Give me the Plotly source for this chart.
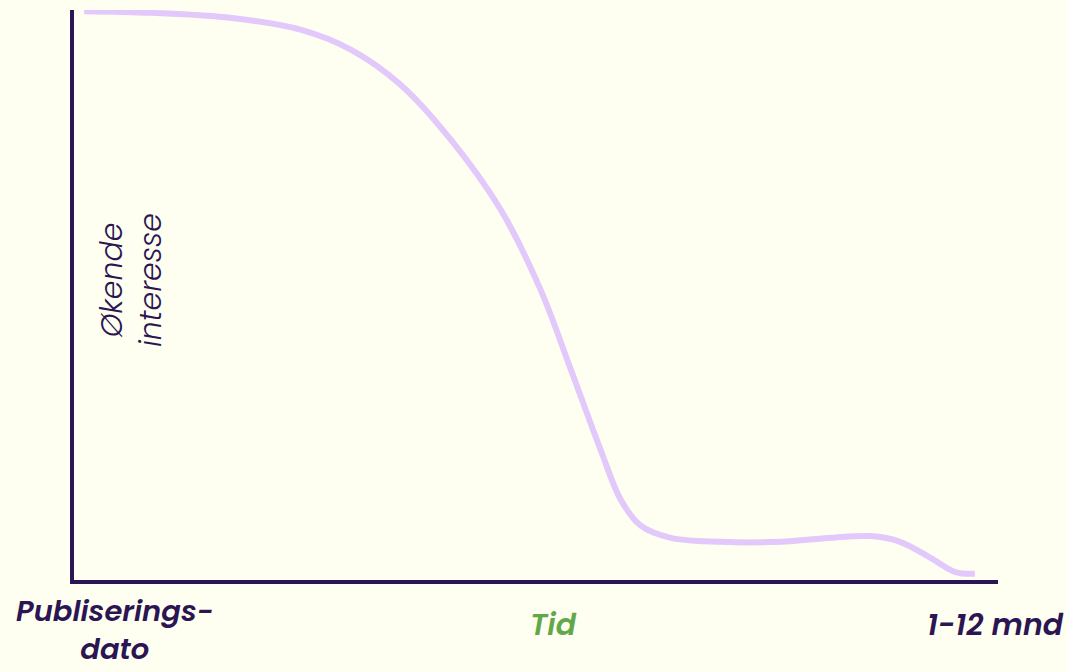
import plotly.graph_objects as go

# Data: time (0-100, relative) and interest (0-100, relative)
time = [1.1, 8.4, 17.1, 24.6, 30.0, 35.4, 40.8, 46.2, 50.5, 53.8, 57.0, 59.2, 61.3,
        64.6, 70.0, 76.5, 81.9, 86.2, 89.4, 92.7, 95.4, 97.5]
interest = [99.8, 99.5, 98.6, 96.5, 93.0, 86.8, 77.2, 64.9, 50.9, 36.8, 22.8, 14.0, 9.6,
            7.4, 6.7, 6.7, 7.4, 7.7, 6.7, 3.9, 1.4, 1.1]

x_labels = ["Publiserings-<br>dato", "Tid", "1-12 mnd"]
y_label = "Økende<br>interesse"

BG = "#fefff0"
DARK = "#2b1552"
GREEN = "#62a84a"
LINE = "#e2c8fb"

W, H = 1068, 672
L, R, T, B = 74, 998, 10, 580

fig = go.Figure()
fig.add_trace(go.Scatter(x=time, y=interest, mode="lines",
                         line=dict(color=LINE, width=6, shape="spline", smoothing=1.0),
                         hoverinfo="skip", showlegend=False))

def px(xp):
    return (xp - L) / (R - L)

def py(yp):
    return (B - yp) / (B - T)

font_family = "Poppins, Lato, 'Open Sans', sans-serif"
common = dict(xref="paper", yref="paper", showarrow=False, xanchor="center", yanchor="middle",
              borderpad=0)
annotations = [
    dict(text="<i>" + x_labels[0] + "</i>", x=px(115), y=py(630), align="center",
         font=dict(family=font_family, size=29, color=DARK, weight=600), **common),
    dict(text="<i>" + x_labels[1] + "</i>", x=px(553), y=py(624),
         font=dict(family=font_family, size=30, color=GREEN, weight=600), **common),
    dict(text="<i>" + x_labels[2] + "</i>", x=px(995), y=py(624),
         font=dict(family=font_family, size=30, color=DARK, weight=600), **common),
    dict(text="<i>" + y_label + "</i>", x=px(131), y=py(280), textangle=-90, align="center",
         font=dict(family=font_family, size=30, color=DARK, weight=300), **common),
]

fig.update_layout(
    width=W, height=H,
    margin=dict(l=L, r=W - R, t=T, b=H - B),
    paper_bgcolor=BG, plot_bgcolor=BG,
    xaxis=dict(range=[0, 100], showgrid=False, zeroline=False, showticklabels=False,
               showline=True, linecolor=DARK, linewidth=4, ticks=""),
    yaxis=dict(range=[0, 100], showgrid=False, zeroline=False, showticklabels=False,
               showline=True, linecolor=DARK, linewidth=4, ticks=""),
    annotations=annotations,
    showlegend=False,
)

fig.write_html("out.html", config={"displayModeBar": False},
               post_script="document.body.style.margin='0';")
